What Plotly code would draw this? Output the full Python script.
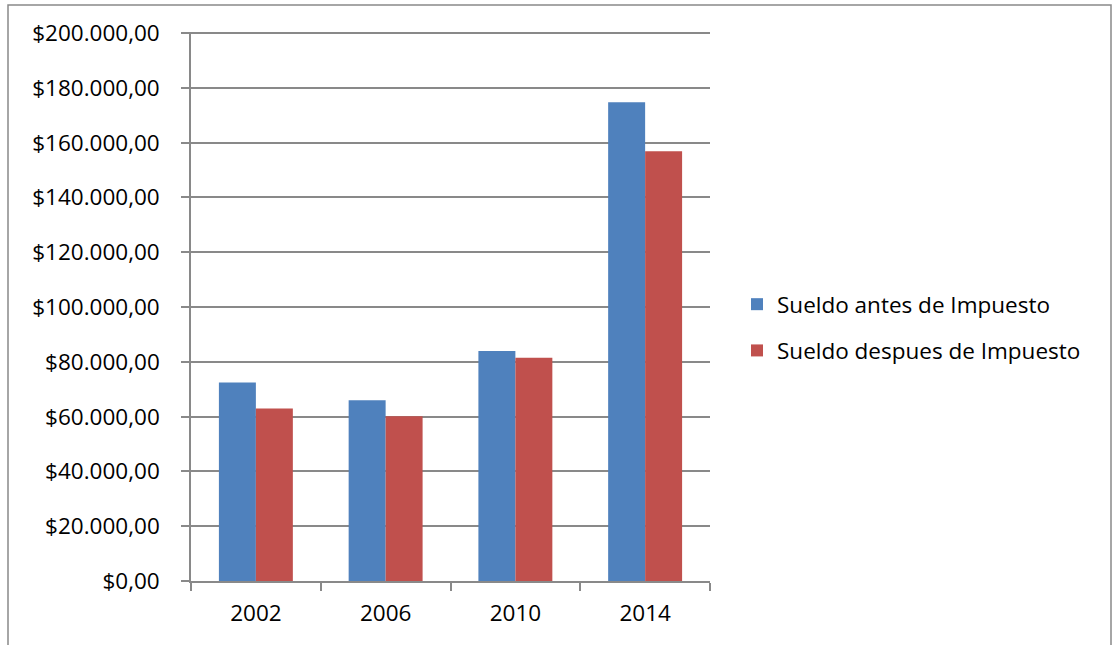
import plotly.graph_objects as go

# Salary data by year
years = ["2002", "2006", "2010", "2014"]
sueldo_antes = [72500, 66000, 84000, 174800]
sueldo_despues = [63000, 60100, 81500, 156900]

y_ticks = [0, 20000, 40000, 60000, 80000, 100000, 120000, 140000, 160000, 180000, 200000]


def fmt_money(v):
    s = f"{v:,.2f}"  # 200,000.00
    s = s.replace(",", "X").replace(".", ",").replace("X", ".")
    return "$" + s


y_labels = [fmt_money(v) for v in y_ticks]

FONT = "Open Sans"
GRAY = "#898989"
FS = 22.5

fig = go.Figure()
fig.add_trace(go.Bar(
    x=years, y=sueldo_antes, name="Sueldo antes de Impuesto",
    marker=dict(color="#4F81BD", line=dict(width=0)), legendgroup="a",
))
fig.add_trace(go.Bar(
    x=years, y=sueldo_despues, name="Sueldo despues de Impuesto",
    marker=dict(color="#C0504D", line=dict(width=0)), legendgroup="b",
))

# plot area in pixels; the y range runs a hair past the top tick so its gridline shows
Y_MAX = 200400
L, R, B = 191, 710, 581
PX_PER_UNIT = 548 / 200000
T = B - Y_MAX * PX_PER_UNIT
W, H = R - L, B - T


def px_x(p):
    return (p - L) / W


def px_y(p):
    return (B - p) / H


# frame around the whole chart
fig.add_shape(type="rect", xref="paper", yref="paper",
              x0=px_x(8), x1=px_x(1111), y0=px_y(660), y1=px_y(5),
              line=dict(color=GRAY, width=1.5), fillcolor="rgba(0,0,0,0)", layer="below")

fig.update_layout(
    width=1115, height=645,
    margin=dict(l=L, r=1115 - R, t=T, b=645 - B),
    paper_bgcolor="white", plot_bgcolor="white",
    font=dict(family=FONT, size=FS, color="#000000"),
    barmode="group", bargap=0.43, bargroupgap=0,
    showlegend=True,
    legend=dict(x=px_x(737), y=px_y(283), xanchor="left", yanchor="top",
                font=dict(family=FONT, size=FS, color="#000000"),
                tracegroupgap=14, traceorder="grouped",
                bgcolor="rgba(0,0,0,0)"),
    xaxis=dict(
        type="category", showgrid=False, showline=True, linecolor=GRAY, linewidth=1.5,
        ticks="outside", tickson="boundaries", ticklen=8, tickcolor=GRAY, tickwidth=1.5,
        tickfont=dict(family=FONT, size=FS), ticklabelstandoff=11,
    ),
    yaxis=dict(
        range=[0, Y_MAX], tickvals=y_ticks, ticktext=y_labels,
        showgrid=True, gridcolor=GRAY, gridwidth=1.5,
        showline=True, linecolor=GRAY, linewidth=1.5,
        ticks="outside", ticklen=8, tickcolor=GRAY, tickwidth=1.5,
        tickfont=dict(family=FONT, size=FS), ticklabelstandoff=17,
        zeroline=False,
    ),
)

fig.write_html("out.html")
